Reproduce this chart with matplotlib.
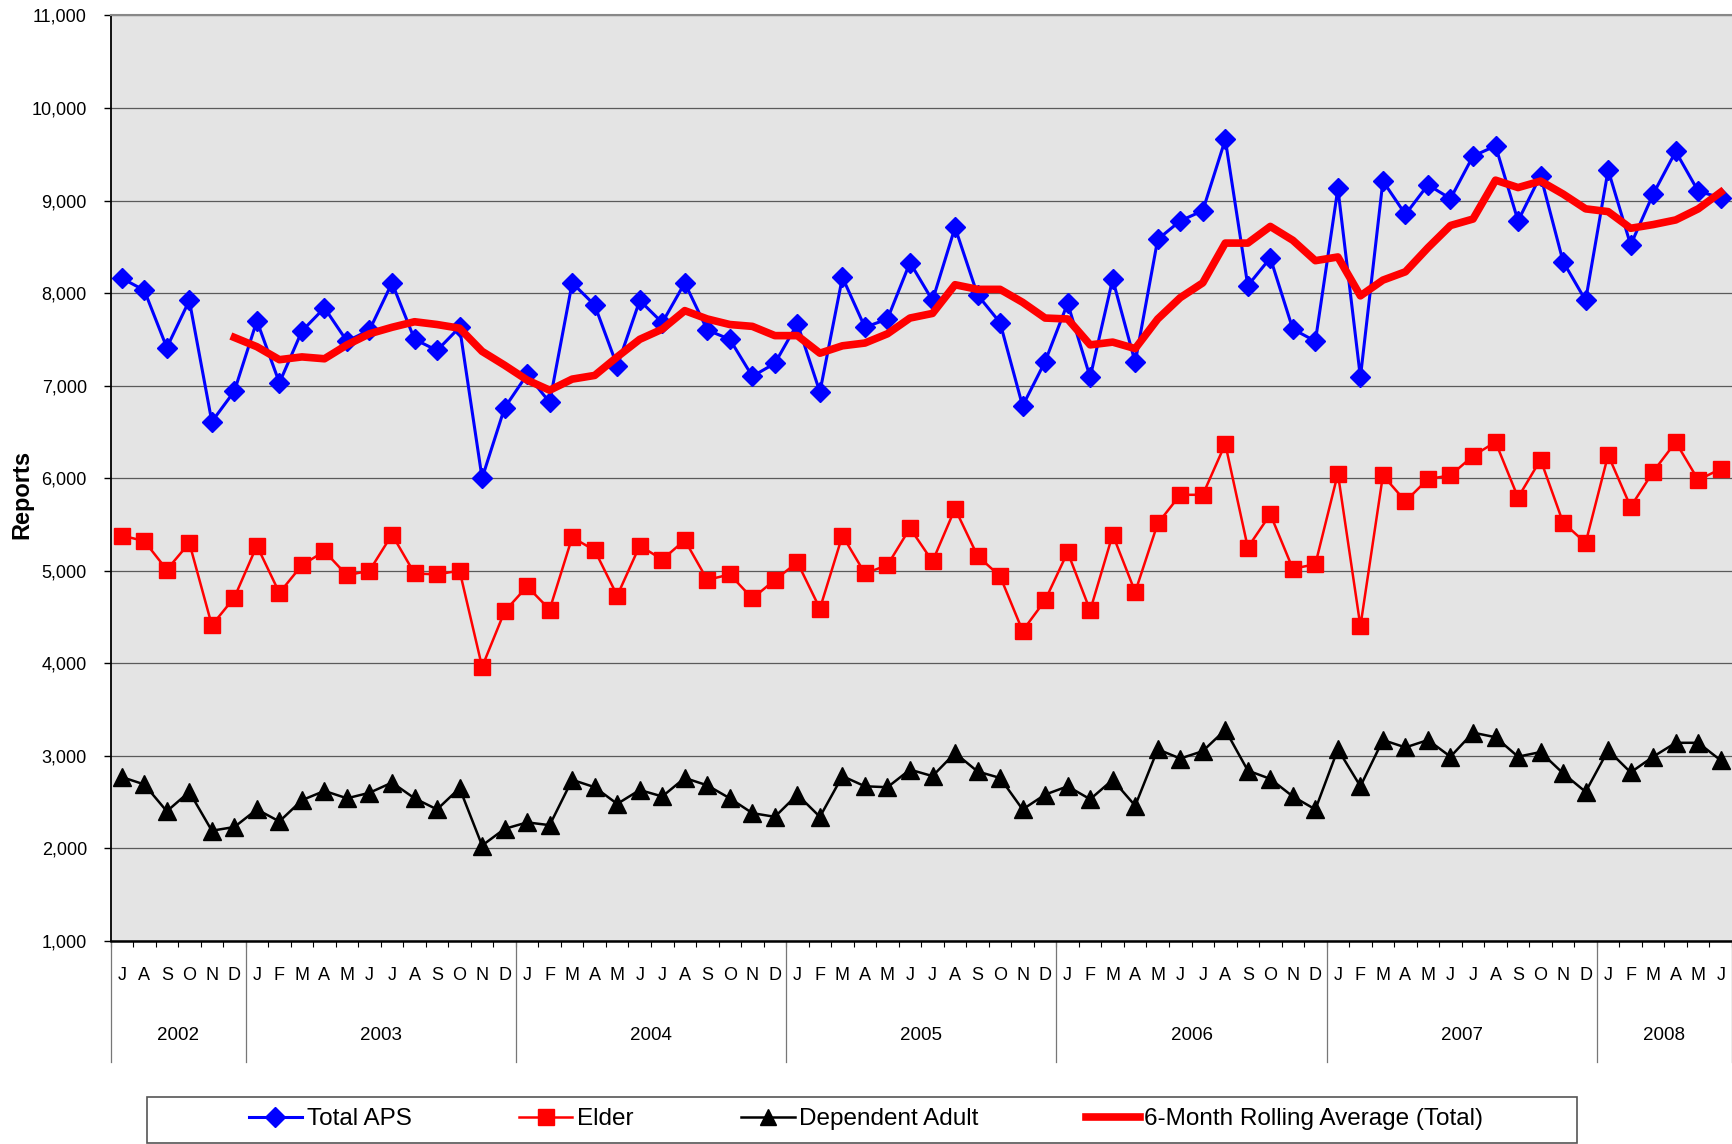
import numpy as np
import matplotlib.pyplot as plt
import matplotlib.transforms as mtransforms
from matplotlib.lines import Line2D
from matplotlib.patches import Rectangle

plt.rcParams['font.family'] = ['Liberation Sans', 'DejaVu Sans']

# ==============================
# DATA (monthly, Jul 2002 - Jun 2008)
# ==============================
month_labels = list("JASOND" + "JFMAMJJASOND" * 5 + "JFMAMJ")
years = ["2002", "2003", "2004", "2005", "2006", "2007", "2008"]
months_per_year = [6, 12, 12, 12, 12, 12, 6]

total_aps = [
    8160, 8030, 7410, 7920, 6610, 6940,
    7700, 7030, 7590, 7840, 7480, 7600, 8110, 7500, 7380, 7630, 6000, 6760,
    7120, 6820, 8110, 7870, 7210, 7920, 7680, 8110, 7600, 7500, 7100, 7240,
    7670, 6930, 8170, 7630, 7720, 8330, 7920, 8710, 7980, 7680, 6780, 7260,
    7890, 7090, 8150, 7250, 8580, 8780, 8890, 9660, 8080, 8380, 7610, 7480,
    9130, 7090, 9210, 8850, 9170, 9020, 9480, 9590, 8780, 9270, 8340, 7920,
    9330, 8520, 9070, 9530, 9100, 9030,
]

elder = [
    5380, 5320, 5010, 5300, 4410, 4710,
    5270, 4760, 5060, 5210, 4950, 5000, 5390, 4970, 4960, 5000, 3960, 4560,
    4830, 4580, 5360, 5220, 4730, 5270, 5120, 5330, 4900, 4960, 4700, 4900,
    5090, 4590, 5380, 4970, 5060, 5460, 5100, 5670, 5160, 4940, 4350, 4680,
    5200, 4570, 5390, 4770, 5510, 5820, 5820, 6370, 5250, 5610, 5020, 5070,
    6050, 4400, 6030, 5750, 5990, 6030, 6240, 6390, 5790, 6200, 5520, 5300,
    6250, 5690, 6070, 6390, 5980, 6100,
]

dependent_adult = [
    2770, 2690, 2400, 2610, 2190, 2230,
    2420, 2290, 2520, 2620, 2540, 2600, 2710, 2540, 2420, 2650, 2030, 2210,
    2280, 2250, 2740, 2660, 2480, 2630, 2560, 2760, 2680, 2540, 2380, 2340,
    2580, 2340, 2780, 2670, 2660, 2850, 2780, 3030, 2830, 2760, 2420, 2580,
    2670, 2530, 2740, 2460, 3070, 2970, 3050, 3280, 2840, 2750, 2560, 2420,
    3070, 2670, 3170, 3090, 3170, 2990, 3250, 3200, 2990, 3040, 2810, 2610,
    3060, 2820, 2990, 3140, 3140, 2950,
]

rolling_avg = [
    np.nan, np.nan, np.nan, np.nan, np.nan, 7520,
    7420, 7280, 7310, 7290, 7440, 7560, 7630, 7690, 7660, 7620, 7370, 7220,
    7060, 6950, 7070, 7110, 7310, 7500, 7610, 7810, 7720, 7660, 7640, 7540,
    7540, 7350, 7430, 7460, 7560, 7730, 7780, 8090, 8040, 8040, 7900, 7730,
    7720, 7440, 7470, 7400, 7720, 7950, 8110, 8540, 8540, 8720, 8570, 8350,
    8390, 7970, 8140, 8230, 8490, 8730, 8800, 9220, 9140, 9210, 9070, 8910,
    8880, 8700, 8740, 8790, 8910, 9090,
]

x = np.arange(len(month_labels))

# ==============================
# FIGURE
# ==============================
fig = plt.figure(figsize=(17.32, 11.44), dpi=100)
ax = fig.add_axes([0.0638, 0.1776, 0.9362, 0.8089])
ax.set_facecolor("#e4e4e4")

ax.plot(x, total_aps, color="#0000ff", lw=2.2, marker="D", ms=10.5, zorder=3)
ax.plot(x, elder, color="#ff0000", lw=1.8, marker="s", ms=11, zorder=3)
ax.plot(x, dependent_adult, color="black", lw=1.8, marker="^", ms=13, zorder=3)
ax.plot(x, rolling_avg, color="#ff0000", lw=5.5, solid_joinstyle="round", zorder=4)

ax.set_xlim(-0.5, len(x) - 0.5)
ax.set_ylim(1000, 11000)
ax.set_yticks(range(1000, 11001, 1000))
ax.yaxis.set_major_formatter(plt.FuncFormatter(lambda v, p: f"{int(v):,}"))
ax.tick_params(axis="y", direction="out", length=5, width=1, pad=12, labelsize=13)
ax.yaxis.grid(True, color="#5a5a5a", lw=0.9)
ax.set_axisbelow(True)

ax.spines["right"].set_visible(False)
ax.spines["top"].set_color("#888888")
ax.spines["top"].set_linewidth(1.5)
ax.spines["left"].set_linewidth(1.3)
ax.spines["bottom"].set_linewidth(1.8)

# month letters + year groups under the axis
ax.set_xticks([])
ax.set_xticks(np.arange(-0.5, len(x), 1), minor=True)
ax.tick_params(axis="x", which="minor", direction="out", length=4, width=0.8,
               labelbottom=False)

trans = mtransforms.blended_transform_factory(ax.transData, ax.transAxes)
for i, m in enumerate(month_labels):
    ax.text(i, -0.038, m, transform=trans, ha="center", va="center", fontsize=13)

start = -0.5
ax.plot([start, start], [0, -0.1313], transform=trans, color="#777777",
        lw=0.9, clip_on=False)
for yr, n in zip(years, months_per_year):
    ax.text(start + n / 2, -0.1026, yr, transform=trans, ha="center",
            va="center", fontsize=13.5)
    start += n
    ax.plot([start, start], [0, -0.1313], transform=trans, color="#777777",
            lw=0.9, clip_on=False)

fig.text(0.0128, 0.5676, "Reports", rotation=90, ha="center", va="center",
         fontsize=17, fontweight="bold")

# ==============================
# LEGEND
# ==============================
handles = [
    Line2D([], [], color="#0000ff", lw=2.2, marker="D", ms=10),
    Line2D([], [], color="#ff0000", lw=1.8, marker="s", ms=11),
    Line2D([], [], color="black", lw=1.8, marker="^", ms=12),
    Line2D([], [], color="#ff0000", lw=5.5),
]
labels = ["Total APS", "Elder", "Dependent Adult", "6-Month Rolling Average (Total)"]

fig.add_artist(Rectangle((133 / 1568, 0.0012), (1428 - 133) / 1568, 0.0403,
                         transform=fig.transFigure, facecolor="white",
                         edgecolor="#555555", lw=1.2, zorder=1))
fig.legend(handles, labels, loc="center", ncol=4, mode="expand",
           bbox_to_anchor=(225 / 1568, 0.0215, (1343 - 225) / 1568, 0),
           frameon=False, fontsize=17.5, handlelength=2.2, handletextpad=0.2,
           borderpad=0, borderaxespad=0)

fig.savefig("out.png", dpi=100)
